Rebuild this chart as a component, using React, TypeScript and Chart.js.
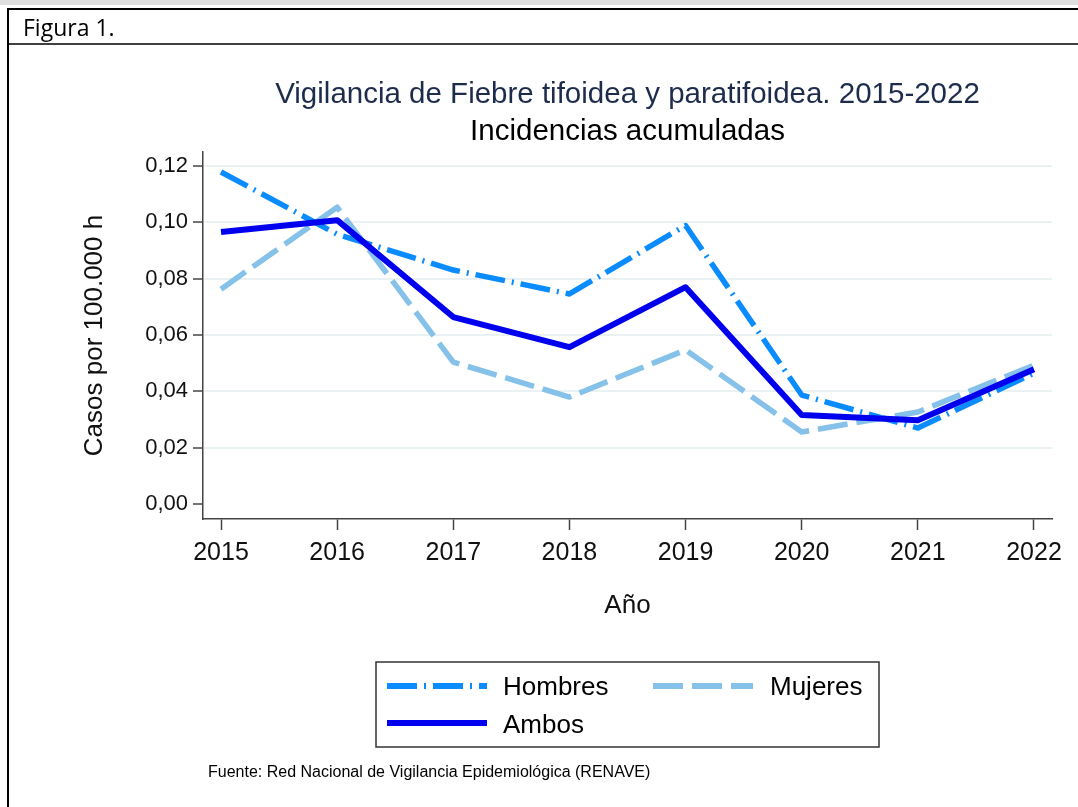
import React, { useEffect, useRef } from "react";
import { Chart, registerables } from "chart.js";

Chart.register(...registerables);

const years = [2015, 2016, 2017, 2018, 2019, 2020, 2021, 2022];
const hombres = [0.1179, 0.0958, 0.0831, 0.0746, 0.0989, 0.0387, 0.027, 0.0465];
const mujeres = [0.0763, 0.1054, 0.0504, 0.038, 0.0547, 0.0256, 0.0327, 0.0493];
const ambos = [0.0966, 0.1008, 0.0664, 0.0557, 0.077, 0.0316, 0.0298, 0.0479];
const yTicks = [0, 0.02, 0.04, 0.06, 0.08, 0.1, 0.12];
const seriesNames = ["Hombres", "Mujeres", "Ambos"];

const figureLabel = "Figura 1.";
const titleLine1 = "Vigilancia de Fiebre tifoidea y paratifoidea. 2015-2022";
const titleLine2 = "Incidencias acumuladas";
const yTitle = "Casos por 100.000 h";
const xTitle = "Año";
const sourceNote = "Fuente: Red Nacional de Vigilancia Epidemiológica (RENAVE)";

const FONT = "'Liberation Sans', Arial, sans-serif";
const W = 1078;
const H = 807;

const decorPlugin = {
  id: "figureDecor",
  afterDraw(chart: any) {
    const ctx = chart.ctx as CanvasRenderingContext2D;
    const ca = chart.chartArea;
    ctx.save();
    // document frame
    ctx.fillStyle = "#dedede";
    ctx.fillRect(0, 0, W, 5);
    ctx.strokeStyle = "#000";
    ctx.lineWidth = 2;
    ctx.beginPath();
    ctx.moveTo(7, 9);
    ctx.lineTo(W, 9);
    ctx.moveTo(8, 8);
    ctx.lineTo(8, H);
    ctx.stroke();
    ctx.lineWidth = 1.5;
    ctx.beginPath();
    ctx.moveTo(8, 44);
    ctx.lineTo(W, 44);
    ctx.stroke();

    // header
    ctx.fillStyle = "#000";
    ctx.font = `23px 'Open Sans', Carlito, Calibri, sans-serif`;
    ctx.textAlign = "left";
    ctx.textBaseline = "alphabetic";
    ctx.fillText(figureLabel, 23, 36);

    // titles
    const cx = (ca.left + ca.right) / 2;
    ctx.textAlign = "center";
    ctx.font = `29.5px ${FONT}`;
    ctx.fillStyle = "#1e2c4c";
    ctx.fillText(titleLine1, cx, 103);
    ctx.fillStyle = "#000";
    ctx.fillText(titleLine2, cx, 140);

    // legend box
    ctx.strokeStyle = "#333";
    ctx.lineWidth = 1.5;
    ctx.strokeRect(376, 662, 503, 85);
    const entries = [
      { i: 0, x: 387, y: 686, tx: 503, ty: 695 },
      { i: 1, x: 653, y: 686, tx: 770, ty: 695 },
      { i: 2, x: 387, y: 723, tx: 503, ty: 733 },
    ];
    ctx.font = `26px ${FONT}`;
    ctx.textAlign = "left";
    entries.forEach((e) => {
      const ds = chart.data.datasets[e.i];
      ctx.save();
      ctx.strokeStyle = ds.borderColor;
      ctx.lineWidth = 6;
      ctx.lineCap = "butt";
      ctx.setLineDash(ds.borderDash || []);
      ctx.beginPath();
      ctx.moveTo(e.x, e.y);
      ctx.lineTo(e.x + 100, e.y);
      ctx.stroke();
      ctx.restore();
      ctx.fillStyle = "#000";
      ctx.fillText(ds.label, e.tx, e.ty);
    });

    // source
    ctx.font = `16px ${FONT}`;
    ctx.fillStyle = "#000";
    ctx.fillText(sourceNote, 208, 777);
    ctx.restore();
  },
};

export default function App() {
  const ref = useRef<HTMLCanvasElement | null>(null);

  useEffect(() => {
    document.body.style.margin = "0";
    const canvas = ref.current;
    if (!canvas) return;
    const toPts = (vals: number[]) => years.map((y, i) => ({ x: y, y: vals[i] }));
    const chart = new Chart(canvas, {
      type: "line",
      data: {
        datasets: [
          {
            label: seriesNames[0],
            data: toPts(hombres),
            borderColor: "#0a8cff",
            borderWidth: 5.5,
            borderDash: [30, 7, 2, 7],
            pointRadius: 0,
            tension: 0,
            borderJoinStyle: "round",
            order: 3,
          },
          {
            label: seriesNames[1],
            data: toPts(mujeres),
            borderColor: "#86c1ea",
            borderWidth: 5.5,
            borderDash: [30, 9],
            pointRadius: 0,
            tension: 0,
            borderJoinStyle: "round",
            order: 2,
          },
          {
            label: seriesNames[2],
            data: toPts(ambos),
            borderColor: "#0000ee",
            borderWidth: 6,
            pointRadius: 0,
            tension: 0,
            borderJoinStyle: "round",
            order: 1,
          },
        ],
      },
      options: {
        responsive: false,
        animation: false,
        events: [],
        layout: { padding: { top: 152, right: 26, left: 0, bottom: 0 } },
        plugins: {
          legend: { display: false },
          title: { display: false },
          tooltip: { enabled: false },
        },
        scales: {
          x: {
            type: "linear",
            min: 2014.845,
            max: 2022.155,
            afterBuildTicks: (s: any) => {
              s.ticks = years.map((v) => ({ value: v }));
            },
            afterFit: (s: any) => {
              s.height = H - 519;
            },
            grid: {
              drawOnChartArea: false,
              drawTicks: true,
              tickLength: 11,
              tickColor: "#444",
              tickWidth: 1.5,
            },
            border: { color: "#444", width: 1.5 },
            ticks: {
              autoSkip: false,
              maxRotation: 0,
              padding: 8,
              color: "#111",
              font: { family: FONT, size: 25 },
              callback: (v: any) => String(v),
            },
            title: {
              display: true,
              text: xTitle,
              color: "#111",
              font: { family: FONT, size: 26 },
              padding: { top: 0, bottom: 186 },
            },
          },
          y: {
            type: "linear",
            min: -0.0053,
            max: 0.125,
            afterBuildTicks: (s: any) => {
              s.ticks = yTicks.map((v) => ({ value: v }));
            },
            afterFit: (s: any) => {
              s.width = 203;
            },
            grid: {
              color: (c: any) => (c.tick && c.tick.value === 0 ? "rgba(0,0,0,0)" : "#e9f1f3"),
              lineWidth: 2,
              drawTicks: true,
              tickLength: 10,
              tickColor: "#444",
              tickWidth: 1.5,
            },
            border: { color: "#444", width: 1.5 },
            ticks: {
              padding: 5,
              color: "#111",
              font: { family: FONT, size: 22 },
              callback: (v: any) => Number(v).toFixed(2).replace(".", ","),
            },
            title: {
              display: true,
              text: yTitle,
              color: "#111",
              font: { family: FONT, size: 26 },
              padding: { top: 79, bottom: 0 },
            },
          },
        },
      },
      plugins: [decorPlugin],
    } as any);
    return () => chart.destroy();
  }, []);

  return (
    <div style={{ width: W, height: H, position: "relative", background: "#fff", overflow: "hidden" }}>
      <canvas ref={ref} width={W} height={H} style={{ display: "block", width: W, height: H }} />
    </div>
  );
}
